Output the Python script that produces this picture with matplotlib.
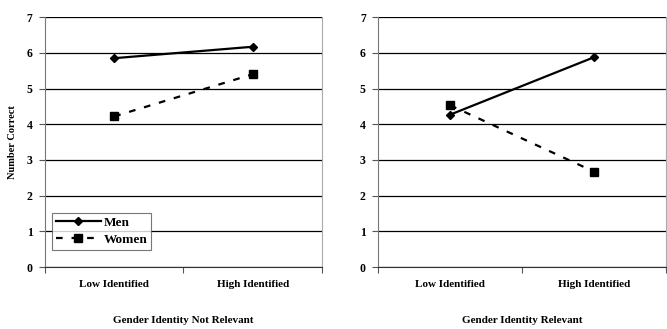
import numpy as np
import matplotlib.pyplot as plt

categories = ['Low Identified', 'High Identified']
men_not_relevant = [5.85, 6.17]
women_not_relevant = [4.22, 5.40]
men_relevant = [4.27, 5.88]
women_relevant = [4.53, 2.67]
panel_titles = ['Gender Identity Not Relevant', 'Gender Identity Relevant']

plt.rcParams['font.family'] = 'Liberation Serif'
plt.rcParams['font.weight'] = 'bold'

fig = plt.figure(figsize=(6.67, 3.29), dpi=100)
ax1 = fig.add_axes([0.0675, 0.188, 0.415, 0.76])
ax2 = fig.add_axes([0.567, 0.188, 0.432, 0.76])

x = np.arange(len(categories))

def style_panel(ax, title):
    ax.set_xlim(-0.5, 1.5)
    ax.set_ylim(0, 7)
    ax.set_yticks(range(8))
    ax.yaxis.grid(True, color='black', linewidth=0.9)
    ax.set_axisbelow(True)
    ax.set_xticks([-0.5, 0.5, 1.5])
    ax.set_xticklabels([])
    ax.set_xticks(x, minor=True)
    ax.set_xticklabels(categories, minor=True, fontsize=8, fontweight='bold')
    ax.tick_params(axis='x', which='minor', length=0, pad=9)
    ax.tick_params(axis='x', which='major', length=4, direction='out', color='#555555')
    ax.tick_params(axis='y', length=4, labelsize=8.5, color='#555555', pad=5)
    ax.spines['top'].set_visible(False)
    ax.spines['left'].set_color('#777777')
    ax.spines['right'].set_color('#aaaaaa')
    ax.spines['bottom'].set_color('#333333')
    ax.set_xlabel(title, fontsize=8, fontweight='bold', labelpad=20)

# solid line = men, dashed line = women
ax1.plot(x, men_not_relevant, '-', color='black', linewidth=1.6, marker='D', markersize=4.5, label='Men', zorder=3)
ax1.plot(x, women_not_relevant, '--', color='black', linewidth=1.6, marker='s', markersize=6, dashes=(3, 4), label='Women', zorder=3)
ax2.plot(x, men_relevant, '-', color='black', linewidth=1.6, marker='D', markersize=4.5, zorder=3)
ax2.plot(x, women_relevant, '--', color='black', linewidth=1.6, marker='s', markersize=6, dashes=(3, 4), zorder=3)

style_panel(ax1, panel_titles[0])
style_panel(ax2, panel_titles[1])
ax1.set_ylabel('Number Correct', fontsize=7.5, fontweight='bold', labelpad=7)

leg = ax1.legend(loc='lower left', bbox_to_anchor=(0.025, 0.07), fontsize=9.5, frameon=True,
                 fancybox=False, edgecolor='#555555', handlelength=3.4, borderpad=0.3,
                 labelspacing=0.35, handletextpad=0.2, borderaxespad=0)
leg.get_frame().set_linewidth(0.8)

plt.savefig('out.png', dpi=100)
